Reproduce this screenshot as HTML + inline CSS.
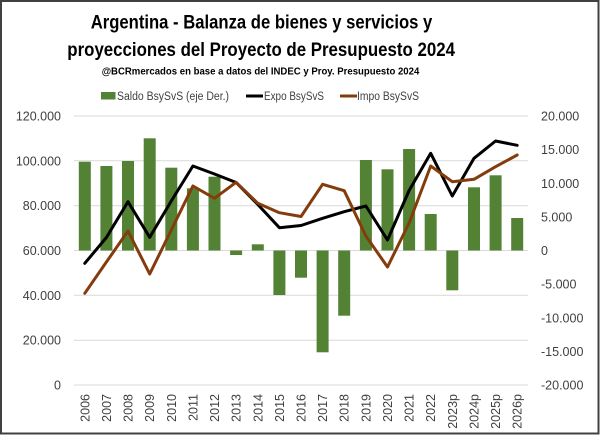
<!DOCTYPE html>
<html>
<head>
<meta charset="utf-8">
<style>
  html, body { margin: 0; padding: 0; background: #fff; }
  svg { display: block; }
  .t { font-family: "Liberation Sans Narrow", "Liberation Sans", sans-serif; font-weight: bold; fill: #000; }
  .ax { font-family: "Liberation Sans", sans-serif; font-size: 12.5px; fill: #404040; }
  .lg { font-family: "Liberation Sans", sans-serif; font-size: 11.5px; fill: #404040; }
</style>
</head>
<body>
<svg width="600" height="435" viewBox="0 0 600 435" xmlns="http://www.w3.org/2000/svg">
  <rect x="0" y="0" width="600" height="435" fill="#fff"/>
  <rect x="1" y="1" width="597.5" height="432.5" fill="none" stroke="#404040" stroke-width="2"/>

  <!-- Titles -->
  <text class="t" x="90.7" y="28.5" font-size="19" textLength="341.6" lengthAdjust="spacingAndGlyphs">Argentina - Balanza de bienes y servicios y</text>
  <text class="t" x="67.3" y="56" font-size="19" textLength="387.7" lengthAdjust="spacingAndGlyphs">proyecciones del Proyecto de Presupuesto 2024</text>
  <text class="t" x="101.7" y="74.5" font-size="10.5" textLength="317.6" lengthAdjust="spacingAndGlyphs">@BCRmercados en base a datos del INDEC y Proy. Presupuesto 2024</text>

  <!-- Legend -->
  <rect x="101" y="92" width="14.5" height="7.5" fill="#548235"/>
  <text class="lg" x="117" y="100" textLength="112" lengthAdjust="spacingAndGlyphs">Saldo BsySvS (eje Der.)</text>
  <line x1="246" y1="96" x2="263" y2="96" stroke="#000" stroke-width="3"/>
  <text class="lg" x="264" y="100" textLength="60" lengthAdjust="spacingAndGlyphs">Expo BsySvS</text>
  <line x1="340" y1="96" x2="357" y2="96" stroke="#843C0C" stroke-width="3"/>
  <text class="lg" x="357" y="100" textLength="62" lengthAdjust="spacingAndGlyphs">Impo BsySvS</text>

  <!-- Gridlines -->
  <g stroke="#d9d9d9" stroke-width="1">
    <line x1="74" y1="116" x2="528" y2="116"/>
    <line x1="74" y1="160.8" x2="528" y2="160.8"/>
    <line x1="74" y1="205.7" x2="528" y2="205.7"/>
    <line x1="74" y1="250.5" x2="528" y2="250.5"/>
    <line x1="74" y1="295.3" x2="528" y2="295.3"/>
    <line x1="74" y1="340.2" x2="528" y2="340.2"/>
    <line x1="74" y1="385" x2="528" y2="385"/>
  </g>

  <!-- Left axis labels -->
  <g class="ax" text-anchor="end">
    <text x="61" y="120.5">120.000</text>
    <text x="61" y="165.3">100.000</text>
    <text x="61" y="210.2">80.000</text>
    <text x="61" y="255">60.000</text>
    <text x="61" y="299.8">40.000</text>
    <text x="61" y="344.7">20.000</text>
    <text x="61" y="389.5">0</text>
  </g>

  <!-- Right axis labels -->
  <g class="ax" text-anchor="start">
    <text x="541" y="120.5">20.000</text>
    <text x="541" y="154.1">15.000</text>
    <text x="541" y="187.8">10.000</text>
    <text x="541" y="221.4">5.000</text>
    <text x="541" y="255">0</text>
    <text x="541" y="288.6">-5.000</text>
    <text x="541" y="322.3">-10.000</text>
    <text x="541" y="355.9">-15.000</text>
    <text x="541" y="389.5">-20.000</text>
  </g>

  <!-- Bars (right axis) -->
  <g fill="#548235">
    <rect x="78.8" y="161.7" width="12" height="88.8"/>
    <rect x="100.4" y="166" width="12" height="84.5"/>
    <rect x="122" y="161" width="12" height="89.5"/>
    <rect x="143.7" y="138.3" width="12" height="112.2"/>
    <rect x="165.3" y="167.7" width="12" height="82.8"/>
    <rect x="186.9" y="188.3" width="12" height="62.2"/>
    <rect x="208.5" y="176.7" width="12" height="73.8"/>
    <rect x="230.1" y="250.5" width="12" height="4.5"/>
    <rect x="251.8" y="244.3" width="12" height="6.2"/>
    <rect x="273.4" y="250.5" width="12" height="44.5"/>
    <rect x="295" y="250.5" width="12" height="27.2"/>
    <rect x="316.6" y="250.5" width="12" height="101.8"/>
    <rect x="338.2" y="250.5" width="12" height="65.2"/>
    <rect x="359.9" y="160" width="12" height="90.5"/>
    <rect x="381.5" y="169.3" width="12" height="81.2"/>
    <rect x="403.1" y="149" width="12" height="101.5"/>
    <rect x="424.7" y="214" width="12" height="36.5"/>
    <rect x="446.3" y="250.5" width="12" height="39.8"/>
    <rect x="468" y="187.3" width="12" height="63.2"/>
    <rect x="489.6" y="175.3" width="12" height="75.2"/>
    <rect x="511.2" y="218" width="12" height="32.5"/>
  </g>

  <!-- Expo line -->
  <polyline fill="none" stroke="#000" stroke-width="3" stroke-linejoin="round" stroke-linecap="round"
    points="84.8,263.3 106.4,237.5 128,201.7 149.7,237.3 171.3,201 192.9,166 214.5,174 236.1,182.5 257.8,204.5 279.4,227.7 301,225.5 322.6,218.3 344.2,211.7 365.9,206 387.5,240 409.1,190.5 430.7,153.3 452.3,196 474,158.3 495.6,141 517.2,145.3"/>

  <!-- Impo line -->
  <polyline fill="none" stroke="#843C0C" stroke-width="3" stroke-linejoin="round" stroke-linecap="round"
    points="84.8,293.3 106.4,262 128,231 149.7,274 171.3,230 192.9,186 214.5,198.3 236.1,182.3 257.8,203.3 279.4,212.7 301,216.5 322.6,184.3 344.2,190.7 365.9,236 387.5,267 409.1,223 430.7,166 452.3,181.7 474,179.3 495.6,166.7 517.2,155"/>

  <!-- X axis labels -->
  <g class="ax" text-anchor="end">
    <text transform="translate(89.3,394) rotate(-90)">2006</text>
    <text transform="translate(110.9,394) rotate(-90)">2007</text>
    <text transform="translate(132.5,394) rotate(-90)">2008</text>
    <text transform="translate(154.2,394) rotate(-90)">2009</text>
    <text transform="translate(175.8,394) rotate(-90)">2010</text>
    <text transform="translate(197.4,394) rotate(-90)">2011</text>
    <text transform="translate(219,394) rotate(-90)">2012</text>
    <text transform="translate(240.6,394) rotate(-90)">2013</text>
    <text transform="translate(262.3,394) rotate(-90)">2014</text>
    <text transform="translate(283.9,394) rotate(-90)">2015</text>
    <text transform="translate(305.5,394) rotate(-90)">2016</text>
    <text transform="translate(327.1,394) rotate(-90)">2017</text>
    <text transform="translate(348.7,394) rotate(-90)">2018</text>
    <text transform="translate(370.4,394) rotate(-90)">2019</text>
    <text transform="translate(392,394) rotate(-90)">2020</text>
    <text transform="translate(413.6,394) rotate(-90)">2021</text>
    <text transform="translate(435.2,394) rotate(-90)">2022</text>
    <text transform="translate(456.8,394) rotate(-90)">2023p</text>
    <text transform="translate(478.5,394) rotate(-90)">2024p</text>
    <text transform="translate(500.1,394) rotate(-90)">2025p</text>
    <text transform="translate(521.7,394) rotate(-90)">2026p</text>
  </g>
</svg>
</body>
</html>
